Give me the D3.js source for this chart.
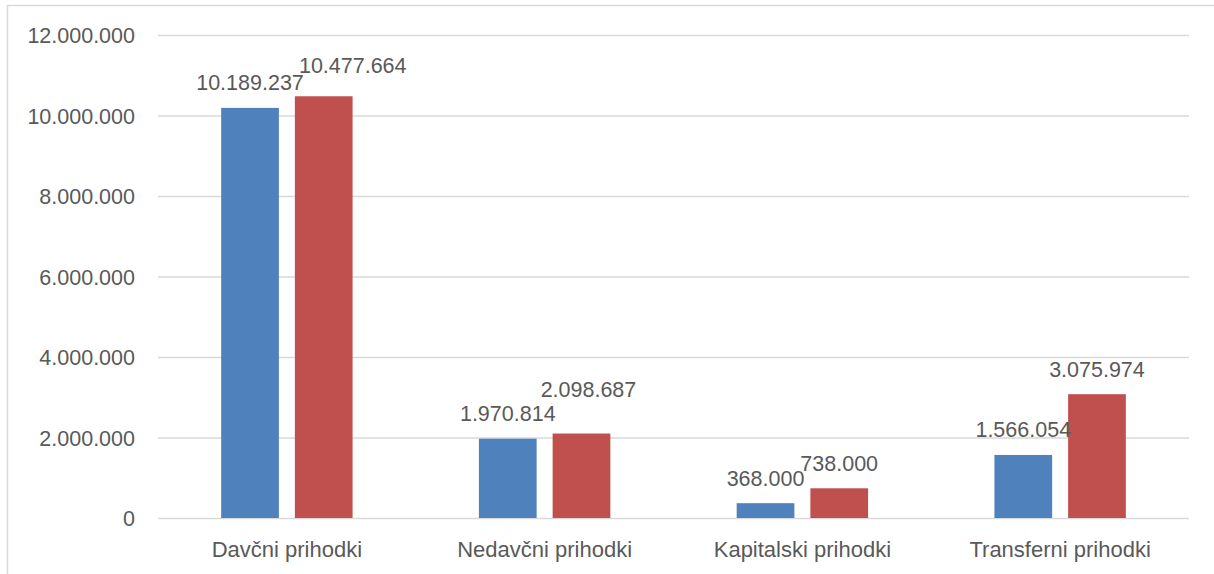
<!DOCTYPE html>
<html>
<head>
<meta charset="utf-8">
<script src="https://cdn.jsdelivr.net/npm/d3@7"></script>
<style>
body { margin: 0; background: #fff; }
text { font-family: "Liberation Sans", Arial, sans-serif; fill: #595959; }
</style>
</head>
<body>
<script>
// chart data
const categories = ["Davčni prihodki", "Nedavčni prihodki", "Kapitalski prihodki", "Transferni prihodki"];
const seriesNames = ["prvi", "drugi"];
const seriesA = [10189237, 1970814, 368000, 1566054];
const seriesB = [10477664, 2098687, 738000, 3075974];
const yTicks = [0, 2000000, 4000000, 6000000, 8000000, 10000000, 12000000];

// labels that were dragged away from their default spot (dx, dy in px)
const nudgeA = [[0, 0], [0, 0], [0, 0], [0, 0]];
const nudgeB = [[29, -5.5], [7, -19], [0, 0], [0, 0]];

const colors = ["#4F81BD", "#C0504D"];

const W = 1214, H = 574;
const plot = {left: 158, right: 1189, top: 35, bottom: 518};

const svg = d3.select("body")
  .append("svg")
  .attr("width", W)
  .attr("height", H);

// chart area border (runs off the picture at right and bottom)
svg.append("rect")
  .attr("x", 7.5)
  .attr("y", 5.5)
  .attr("width", W + 20)
  .attr("height", H + 20)
  .attr("fill", "none")
  .attr("stroke", "#d9d9d9")
  .attr("stroke-width", 1.5);

const locale = d3.formatLocale({decimal: ",", thousands: ".", grouping: [3], currency: ["", ""]});
const fmt = locale.format(",d");

const x0 = d3.scaleBand()
  .domain(categories)
  .range([plot.left, plot.right]);

const x1 = d3.scaleBand()
  .domain(seriesNames)
  .range([0, x0.bandwidth()])
  .paddingInner(0.217)
  .paddingOuter(0.857);

const y = d3.scaleLinear()
  .domain([0, 12000000])
  .range([plot.bottom, plot.top]);

// Y axis with gridlines
const yAxis = svg.append("g")
  .attr("transform", `translate(${plot.left},0)`)
  .call(d3.axisLeft(y)
    .tickValues(yTicks)
    .tickFormat(fmt)
    .tickSize(-(plot.right - plot.left))
    .tickPadding(23));
yAxis.select(".domain").remove();
yAxis.selectAll(".tick line")
  .attr("stroke", "#d9d9d9")
  .attr("stroke-width", 1.5);
yAxis.selectAll(".tick text")
  .attr("dy", "0.36em")
  .style("font-size", "21.5px")
  .attr("fill", "#595959");

// X axis
const xAxis = svg.append("g")
  .attr("transform", `translate(0,${plot.bottom})`)
  .call(d3.axisBottom(x0).tickSize(0));
xAxis.select(".domain").remove();
xAxis.selectAll(".tick text")
  .attr("y", 39)
  .attr("dy", 0)
  .style("font-size", "22px")
  .attr("fill", "#595959");

const rows = categories.map((c, i) => ({cat: c, vals: [
  {s: seriesNames[0], v: seriesA[i], n: nudgeA[i], k: 0},
  {s: seriesNames[1], v: seriesB[i], n: nudgeB[i], k: 1}
]}));

const groups = svg.selectAll(".grp")
  .data(rows)
  .enter()
  .append("g")
  .attr("class", "grp")
  .attr("transform", d => `translate(${x0(d.cat)},0)`);

groups.selectAll("rect")
  .data(d => d.vals)
  .enter()
  .append("rect")
  .attr("x", d => x1(d.s))
  .attr("y", d => y(d.v))
  .attr("width", x1.bandwidth())
  .attr("height", d => y(0) - y(d.v))
  .attr("fill", d => colors[d.k]);

// data labels
groups.selectAll(".lbl")
  .data(d => d.vals)
  .enter()
  .append("text")
  .attr("class", "lbl")
  .attr("text-anchor", "middle")
  .attr("x", d => x1(d.s) + x1.bandwidth() / 2 + d.n[0])
  .attr("y", d => y(d.v) - 17.5 + d.n[1])
  .style("font-size", "21.5px")
  .text(d => fmt(d.v));
</script>
</body>
</html>
